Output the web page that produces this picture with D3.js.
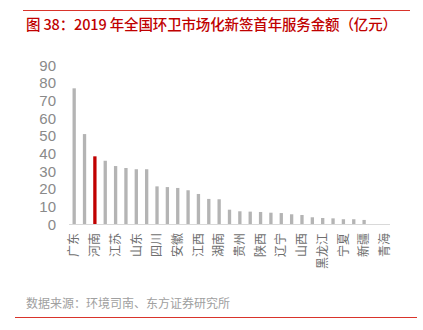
<!DOCTYPE html>
<html>
<head>
<meta charset="utf-8">
<script src="https://cdn.jsdelivr.net/npm/d3@7"></script>
<style>
html,body{margin:0;padding:0;background:#fff;}
svg{display:block;}
</style>
</head>
<body>
<script>
const provinces = ["广东","浙江","河南","湖北","江苏","福建","山东","河北","四川","广西","安徽","重庆","江西","云南","湖南","北京","贵州","上海","陕西","天津","辽宁","内蒙古","山西","吉林","黑龙江","甘肃","宁夏","海南","新疆","西藏","青海"];
const amounts = [76.8,50.9,38.3,35.8,32.8,31.7,31.0,31.0,21.3,20.9,20.4,19.1,17.0,14.2,14.0,8.1,7.2,7.0,6.8,6.4,6.2,5.5,5.1,3.8,3.4,3.2,2.7,2.7,2.3,0,0];
const highlight = ["河南"];
const yTicks = [0,10,20,30,40,50,60,70,80,90];
const titleText = "图 38：2019 年全国环卫市场化新签首年服务金额（亿元）";
const sourceText = "数据来源：环境司南、东方证券研究所";

const W = 423, H = 330;
const svg = d3.select("body").append("svg").attr("width", W).attr("height", H);
const red = "#c00000";
const cjk = "'Noto Sans CJK SC','Noto Sans',sans-serif";

svg.append("line").attr("x1",23).attr("x2",410).attr("y1",10.5).attr("y2",10.5)
  .attr("stroke","#d9342b").attr("stroke-width",1);
svg.append("text").attr("x",26).attr("y",30).text(titleText)
  .attr("font-family",cjk).attr("font-size",14.5).attr("font-weight",500).attr("fill",red)
  .attr("textLength",371).attr("lengthAdjust","spacing");

const x = d3.scaleBand().domain(provinces).range([69,390]).paddingInner(0.68).paddingOuter(0.34);
const y = d3.scaleLinear().domain([0,90]).range([224,65]);

svg.append("g").selectAll("rect").data(provinces).join("rect")
  .attr("x", d => x(d))
  .attr("width", x.bandwidth())
  .attr("y", (d,i) => y(amounts[i]))
  .attr("height", (d,i) => y(0) - y(amounts[i]))
  .attr("fill", d => highlight.includes(d) ? red : "#b4b4b4");

const yAxis = svg.append("g").attr("transform","translate(56,0)")
  .call(d3.axisLeft(y).tickValues(yTicks).tickSize(0).tickPadding(0));
yAxis.select(".domain").remove();
yAxis.selectAll("text").attr("font-family","'Liberation Sans',Arial,sans-serif")
  .attr("font-size",15).attr("fill","#8a8a8a").attr("dy","0.35em");

const xAxis = svg.append("g").attr("transform",`translate(0,${y(0)})`)
  .call(d3.axisBottom(x).tickSize(0).tickFormat((d,i) => i % 2 === 0 ? d : ""));
xAxis.select(".domain").attr("stroke","#d9d9d9").attr("d","M69,0.5H390");
xAxis.selectAll("text")
  .attr("font-family",cjk).attr("font-size",12).attr("fill","#6e6e6e")
  .attr("transform","rotate(-90)")
  .attr("text-anchor","end")
  .attr("x",-9).attr("y",0).attr("dy","0.35em");

svg.append("text").attr("x",26).attr("y",308).text(sourceText)
  .attr("font-family",cjk).attr("font-size",12).attr("fill","#a0a0a0");
svg.append("line").attr("x1",15).attr("x2",417).attr("y1",317.5).attr("y2",317.5)
  .attr("stroke","#d9342b").attr("stroke-width",1);
</script>
</body>
</html>
